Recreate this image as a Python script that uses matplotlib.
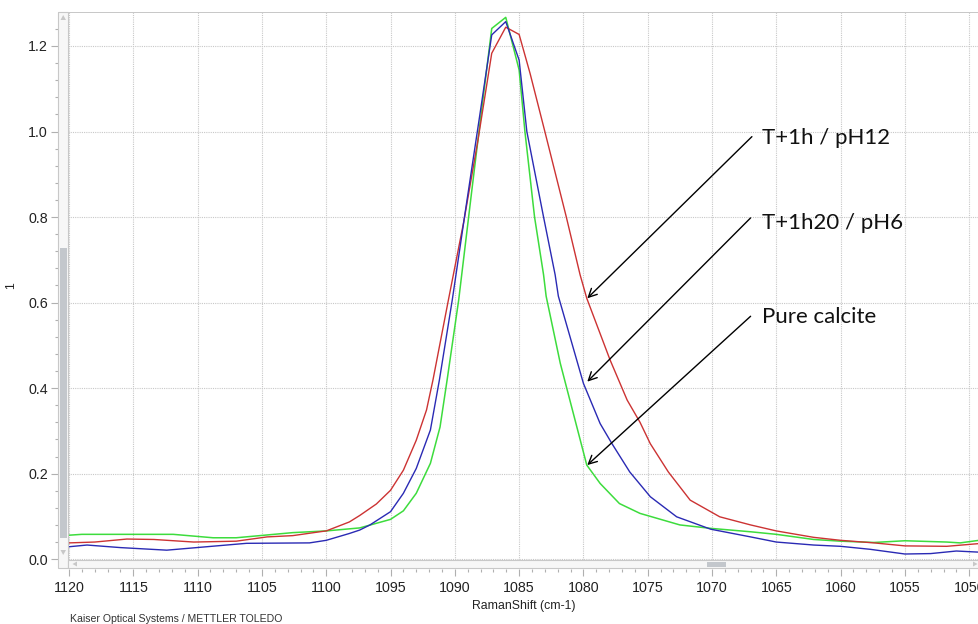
import matplotlib
matplotlib.use("Agg")
import matplotlib.pyplot as plt
from matplotlib.patches import Rectangle, Polygon
from matplotlib.ticker import MultipleLocator, FormatStrFormatter

"""
DATA (read off the Raman spectrum screenshot)
"""
# T+1h / pH12 (red)
red_x = [1120, 1118, 1115.5, 1113.4, 1110.3, 1107, 1104.6, 1102.6, 1100.5, 1100,
         1098.2, 1097.4, 1096.1, 1095, 1094, 1093, 1092.2, 1091.7, 1090.5, 1089.3,
         1088.2, 1087.13, 1086.04, 1085.0, 1084.15, 1083.0, 1081.33, 1080.26, 1079.74,
         1077.93, 1076.6, 1075.6, 1074.8, 1073.4, 1071.7, 1069.4, 1067, 1065, 1062.1,
         1060, 1057.4, 1055, 1051.75, 1049]
red_y = [0.038, 0.040, 0.047, 0.046, 0.040, 0.042, 0.052, 0.055, 0.064, 0.066,
         0.087, 0.102, 0.129, 0.161, 0.208, 0.278, 0.349, 0.419, 0.606, 0.79,
         0.98, 1.183, 1.244, 1.227, 1.136, 1.0, 0.80, 0.665, 0.610,
         0.466, 0.372, 0.320, 0.270, 0.204, 0.138, 0.099, 0.080, 0.066, 0.051,
         0.044, 0.038, 0.031, 0.030, 0.037]

# T+1h20 / pH6 (blue)
blue_x = [1120, 1118.6, 1116, 1112.4, 1109.3, 1106.2, 1101.3, 1100, 1098.2, 1097.4,
          1096.6, 1095, 1094, 1093, 1091.9, 1091.2, 1090.2, 1089.2, 1088.1, 1087.13,
          1086.04, 1085.0, 1084.4, 1083.1, 1082.2, 1081.95, 1080.0, 1078.7, 1077.8,
          1076.4, 1074.8, 1072.75, 1070.1, 1067, 1065, 1062.1, 1060, 1057.7, 1055,
          1053, 1051, 1049]
blue_y = [0.029, 0.033, 0.027, 0.021, 0.029, 0.037, 0.038, 0.044, 0.060, 0.068,
          0.080, 0.111, 0.154, 0.212, 0.302, 0.419, 0.606, 0.81, 1.03, 1.226,
          1.257, 1.167, 1.0, 0.80, 0.665, 0.615, 0.411, 0.317, 0.271,
          0.204, 0.146, 0.099, 0.070, 0.052, 0.040, 0.033, 0.030, 0.023, 0.012,
          0.013, 0.019, 0.016]

# Pure calcite (green)
green_x = [1120, 1119, 1111.9, 1108.8, 1107, 1102.6, 1100, 1097.4, 1095, 1094,
           1093, 1091.9, 1091.15, 1090.6, 1089.7, 1088.7, 1088.0, 1087.13, 1086.04,
           1085.0, 1084.55, 1083.8, 1083.1, 1082.9, 1081.8, 1079.74, 1078.7, 1077.2,
           1075.6, 1072.5, 1070.1, 1067, 1065, 1062.1, 1060, 1057.4, 1055, 1051.75,
           1050.7, 1049]
green_y = [0.056, 0.058, 0.058, 0.050, 0.050, 0.062, 0.066, 0.073, 0.093, 0.113,
           0.154, 0.224, 0.309, 0.419, 0.606, 0.857, 1.03, 1.241, 1.267,
           1.144, 1.0, 0.80, 0.665, 0.615, 0.458, 0.220, 0.177, 0.130,
           0.107, 0.080, 0.072, 0.064, 0.058, 0.046, 0.042, 0.039, 0.043, 0.040,
           0.038, 0.045]

labels = ['T+1h / pH12', 'T+1h20 / pH6', 'Pure calcite']
# label text anchor and arrow ends, in data units
label_text_x = [1066.1, 1066.1, 1066.1]
label_text_y = [0.985, 0.786, 0.566]
arrow_tip_x = [1079.7, 1079.7, 1079.7]
arrow_tip_y = [0.610, 0.415, 0.220]
arrow_start_x = [1066.9, 1067.0, 1067.0]
arrow_start_y = [0.988, 0.798, 0.568]

"""
PLOT
"""
W, H = 979, 624
fig = plt.figure(figsize=(W / 100, H / 100), dpi=100)
plt.rcParams['font.family'] = ['Liberation Sans', 'DejaVu Sans']

def fx(px):
    return px / W

def fy(py):
    return 1 - py / H

# data area in pixels
L, R, T, B = 68, 979, 12, 560
ax = fig.add_axes([fx(L), fy(B), fx(R) - fx(L), fy(T) - fy(B)])

ax.plot(red_x, red_y, color='#cc3333', lw=1.0, zorder=3)
ax.plot(blue_x, blue_y, color='#2a2ab4', lw=1.0, zorder=4)
ax.plot(green_x, green_y, color='#3ddc3d', lw=1.1, zorder=2)

ax.set_xlim(1120.08, 1049.24)
ax.set_ylim(-0.002, 1.2795)

ax.xaxis.set_major_locator(MultipleLocator(5))
ax.xaxis.set_minor_locator(MultipleLocator(1))
ax.xaxis.set_major_formatter(FormatStrFormatter('%d'))
ax.yaxis.set_major_locator(MultipleLocator(0.2))
ax.yaxis.set_minor_locator(MultipleLocator(0.04))
ax.yaxis.set_major_formatter(FormatStrFormatter('%.1f'))

ax.grid(True, which='major', color='#c8c8c8', linestyle=(0, (1, 1)), linewidth=0.8)

for s in ['top', 'right']:
    ax.spines[s].set_visible(False)
ax.spines['left'].set_position(('outward', 7.5))
ax.spines['bottom'].set_position(('outward', 6.5))
ax.spines['left'].set_visible(False)
ax.spines['bottom'].set_visible(False)

ax.tick_params(axis='both', which='major', length=5, width=0.8, color='#b0b0b0',
               labelsize=10.3, labelcolor='#222222')
ax.tick_params(axis='both', which='minor', length=2.5, width=0.8, color='#b0b0b0')
ax.tick_params(axis='y', which='major', pad=2)
ax.tick_params(axis='x', which='major', pad=3.5)

ax.set_xlabel('RamanShift (cm-1)', fontsize=8.8, labelpad=3.5, color='#222222')
ax.set_ylabel('1', fontsize=8.8, color='#222222')
ax.yaxis.set_label_coords((17 - L) / (R - L), 0.5)

for i in range(len(labels)):
    ax.annotate('', xy=(arrow_tip_x[i], arrow_tip_y[i]),
                xytext=(arrow_start_x[i], arrow_start_y[i]),
                arrowprops=dict(arrowstyle='->', color='black', lw=1.0,
                                mutation_scale=15, shrinkA=0, shrinkB=0),
                zorder=6)
    ax.text(label_text_x[i], label_text_y[i], labels[i], fontsize=16,
            family=['Lato', 'DejaVu Sans'], va='center', ha='left', color='#111111',
            zorder=6)

# frame and scroll bars drawn in pixel units on the figure
def prect(x0, y0, x1, y1, **kw):
    r = Rectangle((fx(x0), fy(y1)), fx(x1) - fx(x0), fy(y0) - fy(y1),
                  transform=fig.transFigure, **kw)
    fig.add_artist(r)

def ptri(pts, **kw):
    p = Polygon([(fx(a), fy(b)) for a, b in pts], closed=True,
                transform=fig.transFigure, **kw)
    fig.add_artist(p)

frame = '#c8c8c8'
# outer frame top line
prect(58, 12, 980, 12.8, facecolor=frame, edgecolor='none', zorder=5)
# vertical scroll bar
prect(58, 12, 68, 568, facecolor='#f7f7f7', edgecolor=frame, lw=0.8, zorder=5)
prect(60.5, 248, 66.5, 538, facecolor='#c3c7cc', edgecolor='none', zorder=6)
ptri([(60.5, 20), (66, 20), (63.2, 15)], facecolor='#c8c8c8', edgecolor='none', zorder=6)
ptri([(60.5, 550), (66, 550), (63.2, 555)], facecolor='#c8c8c8', edgecolor='none', zorder=6)
# horizontal scroll bar
prect(68, 560, 980, 568, facecolor='#f7f7f7', edgecolor=frame, lw=0.8, zorder=5)
prect(707, 561.5, 726, 566.5, facecolor='#c3c7cc', edgecolor='none', zorder=6)
ptri([(77, 561.5), (77, 566.5), (72.5, 564)], facecolor='#c8c8c8', edgecolor='none', zorder=6)
ptri([(973, 561.5), (973, 566.5), (977.5, 564)], facecolor='#c8c8c8', edgecolor='none', zorder=6)

fig.text(fx(70), fy(619), 'Kaiser Optical Systems / METTLER TOLEDO', fontsize=7.6,
         color='#333333', va='center', ha='left')

plt.savefig('out.png', dpi=100)
plt.close()
